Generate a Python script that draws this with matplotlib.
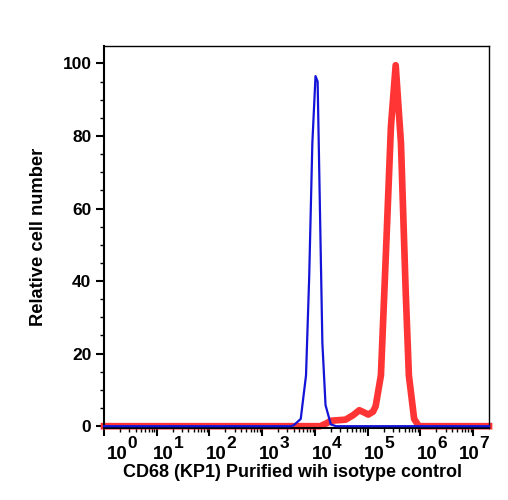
import numpy as np
import matplotlib
matplotlib.use('Agg')
import matplotlib.pyplot as plt
from matplotlib.ticker import FixedLocator, MultipleLocator, LogLocator, NullFormatter

plt.rcParams['font.family'] = ['Liberation Sans', 'DejaVu Sans']
plt.rcParams['font.weight'] = 'bold'

# log10 of fluorescence intensity, relative cell number
isotype_log = [0.0, 3.55, 3.60, 3.73, 3.83, 3.89, 3.95, 4.01, 4.05, 4.10, 4.14, 4.20, 4.30, 4.40, 7.3]
isotype_val = [0.0, 0.0, 0.3, 2.0, 14.0, 41.0, 78.0, 96.5, 95.0, 55.0, 23.0, 5.8, 0.5, 0.0, 0.0]

cd68_log = [0.0, 4.10, 4.22, 4.30, 4.39, 4.58, 4.72, 4.84, 4.93, 5.01, 5.10, 5.15,
            5.25, 5.34, 5.44, 5.53, 5.63, 5.72, 5.78, 5.88, 5.97, 7.3]
cd68_val = [0.0, 0.0, 0.8, 1.5, 1.6, 1.8, 3.0, 4.4, 3.8, 3.2, 4.0, 5.5,
            14.0, 46.0, 82.6, 99.5, 78.0, 37.0, 14.0, 2.0, 0.0, 0.0]

x_ticks = [0, 1, 2, 3, 4, 5, 6, 7]
y_ticks = [0, 20, 40, 60, 80, 100]

fig = plt.figure(figsize=(5.08, 5.0), dpi=100)
ax = fig.add_axes([0.2047, 0.144, 0.758, 0.764])

ax.plot(10 ** np.array(cd68_log), cd68_val, color='#ff3535', lw=4.8,
        solid_joinstyle='round', clip_on=False, zorder=2)
ax.plot(10 ** np.array(isotype_log), isotype_val, color='#1414d8', lw=1.6,
        clip_on=False, zorder=3)

ax.set_xscale('log')
ax.set_xlim(1, 10 ** 7.3)
ax.set_ylim(-0.5, 104.8)

ax.xaxis.set_major_locator(FixedLocator([10 ** k for k in x_ticks]))
ax.xaxis.set_minor_locator(LogLocator(base=10, subs=np.arange(2, 10), numticks=20))
ax.xaxis.set_minor_formatter(NullFormatter())
ax.set_xticklabels([])

ax.set_yticks(y_ticks)
ax.yaxis.set_minor_locator(MultipleLocator(5))

ax.tick_params(axis='both', which='major', direction='out', length=6, width=1.5,
               labelsize=12.5, pad=3)
ax.tick_params(axis='both', which='minor', direction='out', length=3, width=1)

# decade labels: big superscripts, set a bit right of the tick like the original
for i, k in enumerate(x_ticks):
    if i == 0:
        dx = 13
    elif i == len(x_ticks) - 1:
        dx = -4
    else:
        dx = 7
    ax.annotate('10', xy=(10 ** k, 0), xycoords=('data', 'axes fraction'),
                xytext=(dx, -18), textcoords='offset pixels',
                ha='center', va='top', fontsize=13.5, fontweight='bold',
                annotation_clip=False)
    ax.annotate(str(k), xy=(10 ** k, 0), xycoords=('data', 'axes fraction'),
                xytext=(dx + 15, -8), textcoords='offset pixels',
                ha='center', va='top', fontsize=12.5, fontweight='bold',
                annotation_clip=False)

for side in ['left', 'bottom']:
    ax.spines[side].set_linewidth(1.5)
for side in ['top', 'right']:
    ax.spines[side].set_linewidth(1.0)

ax.set_xlabel('CD68 (KP1) Purified wih isotype control', fontsize=13, fontweight='bold')
ax.xaxis.set_label_coords(0.49, -0.095)
ax.set_ylabel('Relative cell number', fontsize=13.2, fontweight='bold', labelpad=11)

fig.savefig('out.png', dpi=100)
